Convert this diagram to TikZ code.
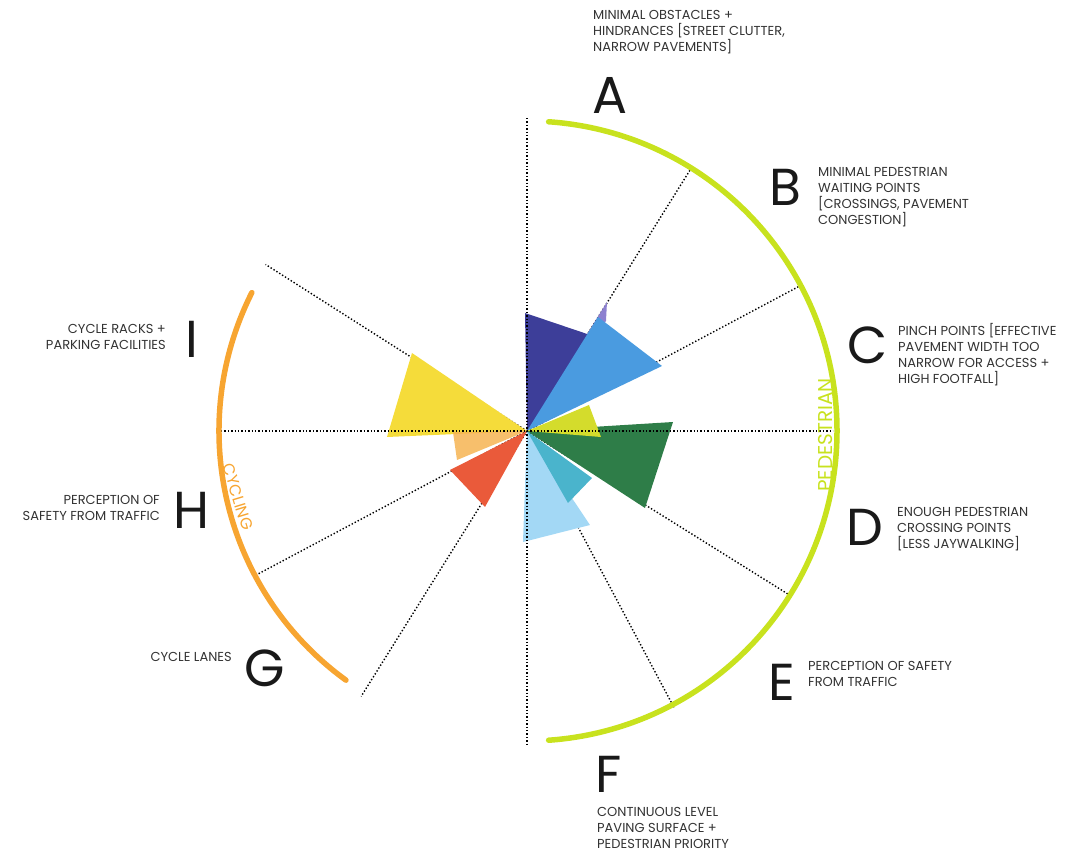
\documentclass[tikz,border=0pt]{standalone}
\usepackage{fontspec}
\setmainfont{Poppins}
\definecolor{pedgreen}{HTML}{C8E21E}
\definecolor{cycorange}{HTML}{F7A531}
\definecolor{colA}{HTML}{3D3E99}
\definecolor{colAB}{HTML}{8C80D0}
\definecolor{colB}{HTML}{4A9BE0}
\definecolor{colC}{HTML}{D4DC2C}
\definecolor{colD}{HTML}{2E7D48}
\definecolor{colE}{HTML}{4AB4CC}
\definecolor{colF}{HTML}{A3D8F5}
\definecolor{colG}{HTML}{EA5A3A}
\definecolor{colH}{HTML}{F6B452}
\definecolor{colI}{HTML}{F5DC3A}
\definecolor{inkgrey}{HTML}{333333}

\begin{document}
\begin{tikzpicture}[x=1pt,y=1pt]
			\tikzstyle{every node}+=[inner sep=0pt]
			\tikzstyle{guide}=[black,dotted,line width=1.4pt]
			\tikzstyle{rim}=[line width=5.5pt,line cap=round]
			\tikzstyle{letter}=[font=\fontsize{52}{52}\selectfont,text=black!90]
			\tikzstyle{note}=[font=\fontsize{13}{16}\selectfont,text=inkgrey]
			\useasboundingbox (-527,-420) rectangle (553,431);
			\coordinate (ctr) at (0,0);
			\draw [guide] (ctr) -- (58:310);
			\draw [guide] (ctr) -- (28:310);
			\draw [guide] (ctr) -- (-32:310);
			\draw [guide] (ctr) -- (-62:313);
			\draw [guide] (ctr) -- (147.5:310);
			\draw [guide] (ctr) -- (208:306);
			\draw [guide] (ctr) -- (238:313);
			\fill [colAB] (ctr) -- (80,129) -- (79,110) -- cycle;
			\fill [colA] (ctr) -- (-2,118) -- (75,92) -- cycle;
			\fill [colB] (ctr) -- (71,114) -- (135,65) -- cycle;
			\fill [colF] (ctr) -- (-4,-111) -- (63,-94) -- cycle;
			\fill [colE] (ctr) -- (65,-47) -- (41,-72) -- cycle;
			\fill [colD] (ctr) -- (146,9) -- (118,-77) -- cycle;
			\fill [colC] (ctr) -- (62,26) -- (74,-6) -- cycle;
			\fill [colI] (ctr) -- (-115,78) -- (-140,-6) -- cycle;
			\fill [colH,opacity=0.85] (ctr) -- (-74,-1) -- (-70,-29) -- cycle;
			\fill [colG] (ctr) -- (-77,-39) -- (-42,-76) -- cycle;
			\draw [guide] (0,313) -- (0,-314);
			\draw [guide] (-306,0) -- (306,0);
			\draw [pedgreen,rim] (86:310) arc (86:-86:310);
			\draw [cycorange,rim] (153.3:308) arc (153.3:234:308);
			\node [text=pedgreen,rotate=90,font=\fontsize{20}{20}\selectfont] (ped) at (299,-4) {PEDESTRIAN};
			\node [text=cycorange,rotate=-73,font=\fontsize{16}{16}\selectfont] (cyc) at (-289,-66) {CYCLING};
			\node [letter] (A) at (83,336) {A};
			\node [letter] (B) at (258,244) {B};
			\node [letter] (C) at (341,86) {C};
			\node [letter] (D) at (338,-96) {D};
			\node [letter] (E) at (255,-251) {E};
			\node [letter] (F) at (82,-343) {F};
			\node [letter] (G) at (-262,-237) {G};
			\node [letter] (H) at (-336,-79) {H};
			\node [letter] (I) at (-335,92) {I};
			\node [note,anchor=west,align=left] (Atext) at (66,399) {MINIMAL OBSTACLES +\\HINDRANCES {[}STREET CLUTTER,\\NARROW PAVEMENTS{]}};
			\node [note,anchor=west,align=left] (Btext) at (291,234) {MINIMAL PEDESTRIAN\\WAITING POINTS\\{[}CROSSINGS, PAVEMENT\\CONGESTION{]}};
			\node [note,anchor=west,align=left] (Ctext) at (371,76.5) {PINCH POINTS {[}EFFECTIVE\\PAVEMENT WIDTH TOO\\NARROW FOR ACCESS +\\HIGH FOOTFALL{]}};
			\node [note,anchor=west,align=left] (Dtext) at (370,-98) {ENOUGH PEDESTRIAN\\CROSSING POINTS\\{[}LESS JAYWALKING{]}};
			\node [note,anchor=west,align=left] (Etext) at (281,-243) {PERCEPTION OF SAFETY\\FROM TRAFFIC};
			\node [note,anchor=west,align=left] (Ftext) at (70,-397) {CONTINUOUS LEVEL\\PAVING SURFACE +\\PEDESTRIAN PRIORITY};
			\node [note,anchor=east,align=right] (Gtext) at (-295,-226) {CYCLE LANES};
			\node [note,anchor=east,align=right] (Htext) at (-367,-77) {PERCEPTION OF\\SAFETY FROM TRAFFIC};
			\node [note,anchor=east,align=right] (Itext) at (-361,94) {CYCLE RACKS +\\PARKING FACILITIES};
		\end{tikzpicture}
\end{document}
